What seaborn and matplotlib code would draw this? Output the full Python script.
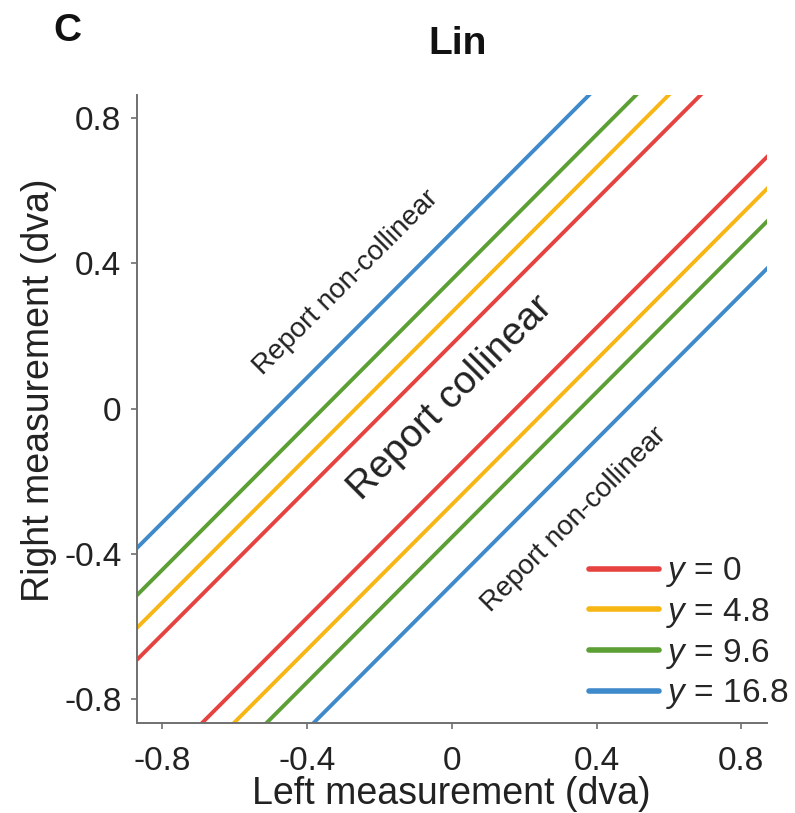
import numpy as np
import pandas as pd
import matplotlib
matplotlib.use("Agg")
import matplotlib.pyplot as plt
import seaborn as sns

# Decision boundaries for the linear model: R = L +/- c for each vertical offset y
levels = ["$y$ = 0", "$y$ = 4.8", "$y$ = 9.6", "$y$ = 16.8"]
offsets = [0.177, 0.265, 0.355, 0.485]
colors = ["#E6423F", "#F7B614", "#5C9F35", "#3F8ACB"]
ticks = [-0.8, -0.4, 0.0, 0.4, 0.8]
tick_labels = ["-0.8", "-0.4", "0", "0.4", "0.8"]

sns.set_theme(style="white")
plt.rcParams["font.family"] = ["Liberation Sans", "DejaVu Sans"]
plt.rcParams["axes.unicode_minus"] = False
plt.rcParams["mathtext.fontset"] = "custom"
plt.rcParams["mathtext.it"] = "Liberation Sans:italic"
plt.rcParams["mathtext.rm"] = "Liberation Sans"

left_x = np.array([-0.95, 0.95])
rows = []
for lab, c in zip(levels, offsets):
    for side, sgn in (("upper", 1), ("lower", -1)):
        for x in left_x:
            rows.append({"left": x, "right": x + sgn * c, "level": lab, "side": side})
df = pd.DataFrame(rows)

fig = plt.figure(figsize=(7.95, 8.13), dpi=100)
ax = fig.add_axes([0.172, 0.111, 0.7924, 0.772])

sns.lineplot(data=df, x="left", y="right", hue="level", units="side",
             estimator=None, palette=colors, hue_order=levels,
             linewidth=2.8, ax=ax, sort=False)

ax.set_xlim(-0.87, 0.87)
ax.set_ylim(-0.866, 0.864)
ax.set_xticks(ticks)
ax.set_xticklabels(tick_labels)
ax.set_yticks(ticks)
ax.set_yticklabels(tick_labels)

grey = "#707070"
for s in ("top", "right"):
    ax.spines[s].set_visible(False)
for s in ("left", "bottom"):
    ax.spines[s].set_color(grey)
    ax.spines[s].set_linewidth(1.4)
ax.tick_params(axis="both", direction="out", length=4, width=1.2, color=grey,
               labelsize=24, labelcolor="#222222", bottom=True, left=True)
ax.tick_params(axis="y", pad=7)
ax.tick_params(axis="x", pad=13)

ax.set_xlabel("Left measurement (dva)", fontsize=27, color="#222222", labelpad=-1)
ax.set_ylabel("Right measurement (dva)", fontsize=27, color="#222222")
ax.yaxis.set_label_coords(-0.1265, 0.530)

# Region annotations along the diagonal
ax.text(-0.291, 0.348, "Report non-collinear", rotation=45, rotation_mode="anchor",
        ha="center", va="center", fontsize=20, color="#222222")
ax.text(-0.004, 0.028, "Report collinear", rotation=45, rotation_mode="anchor",
        ha="center", va="center", fontsize=28, color="#222222")
ax.text(0.338, -0.305, "Report non-collinear", rotation=45, rotation_mode="anchor",
        ha="center", va="center", fontsize=20, color="#222222")

handles, labels = ax.get_legend_handles_labels()
leg = ax.legend(handles, labels, loc="lower right", bbox_to_anchor=(1.034, 0.018),
                frameon=False, fontsize=24, handlelength=2.1, handletextpad=0.2,
                labelspacing=0.2, borderaxespad=0, borderpad=0)
for h in leg.get_lines():
    h.set_linewidth(4)

fig.text(458 / 795, 1 - 44 / 813, "Lin", ha="center", va="center",
         fontsize=28, fontweight="bold", color="#111111")
fig.text(67 / 795, 1 - 31 / 813, "C", ha="center", va="center",
         fontsize=28, fontweight="bold", color="#111111")

fig.savefig("out.png", dpi=100, facecolor="white")
